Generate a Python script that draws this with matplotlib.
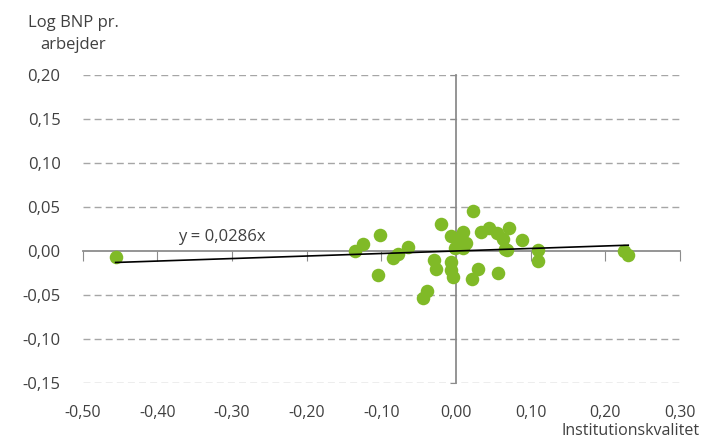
import matplotlib
matplotlib.use('Agg')
from matplotlib import pyplot as plt
from matplotlib.ticker import FuncFormatter
import numpy as np

# institution quality (x) vs log GDP per worker (y)
inst_quality = [-0.456, -0.135, -0.124, -0.102, -0.104, -0.077, -0.084, -0.064,
                -0.044, -0.039, -0.030, -0.027, -0.020, -0.006, 0.010, 0.003,
                0.014, -0.001, 0.010, -0.007, -0.006, -0.004, 0.021, 0.030,
                0.023, 0.034, 0.045, 0.055, 0.063, 0.071, 0.089, 0.069,
                0.066, 0.056, 0.110, 0.110, 0.225, 0.231]
log_gdp = [-0.007, 0.000, 0.008, 0.018, -0.027, -0.003, -0.008, 0.005,
           -0.053, -0.045, -0.010, -0.020, 0.031, 0.017, 0.022, 0.012,
           0.009, 0.003, 0.003, -0.012, -0.022, -0.030, -0.032, -0.020,
           0.045, 0.022, 0.026, 0.021, 0.014, 0.026, 0.012, 0.001,
           0.002, -0.025, 0.001, -0.011, 0.000, -0.004]
slope = 0.0286

xticks = [-0.5, -0.4, -0.3, -0.2, -0.1, 0.0, 0.1, 0.2, 0.3]
yticks = [-0.15, -0.10, -0.05, 0.0, 0.05, 0.10, 0.15, 0.20]

plt.rcParams['font.family'] = ['Open Sans', 'DejaVu Sans']
txt = '#404040'
axc = '#8c8c8c'

fig = plt.figure(figsize=(7.14, 4.41), dpi=100)
ax = fig.add_axes([0.116, 0.1315, 0.836, 0.6985])

comma = FuncFormatter(lambda v, p: f'{v:.2f}'.replace('.', ','))

# dashed horizontal grid
for yv in yticks:
    if yv != 0:
        ax.axhline(yv, color='#a6a6a6', lw=1, ls=(0, (5, 3)), zorder=0)

ax.set_xlim(-0.5, 0.3)
ax.set_ylim(-0.15, 0.20)

for s in ['top', 'right']:
    ax.spines[s].set_visible(False)
ax.spines['left'].set_position(('data', 0))
ax.spines['bottom'].set_position(('data', 0))
ax.spines['left'].set_color(axc)
ax.spines['bottom'].set_color(axc)
ax.spines['left'].set_linewidth(1.3)
ax.spines['bottom'].set_linewidth(1.3)
ax.set_xticks(xticks)
ax.set_yticks(yticks)
ax.tick_params(axis='x', direction='out', length=7, color=axc, labelbottom=False)
ax.tick_params(axis='y', direction='out', length=4, color=axc, labelleft=False)

secx = ax.secondary_xaxis('bottom')
secx.set_xticks(xticks)
secx.xaxis.set_major_formatter(comma)
secx.tick_params(length=0, labelsize=11.5, labelcolor=txt, pad=16)
secx.spines['bottom'].set_visible(False)

secy = ax.secondary_yaxis('left')
secy.set_yticks(yticks)
secy.yaxis.set_major_formatter(comma)
secy.tick_params(length=0, labelsize=12, labelcolor=txt, pad=16)
secy.spines['left'].set_visible(False)

ax.scatter(inst_quality, log_gdp, s=95, color='#80ba27', zorder=3, linewidths=0)

xl = np.array([min(inst_quality), max(inst_quality)])
ax.plot(xl, slope * xl, color='black', lw=1.2, zorder=4)
ax.text(-0.373, 0.016, 'y = 0,0286x', fontsize=12, color=txt, va='center')

fig.text(0.103, 0.924, 'Log BNP pr.\narbejder', ha='center', va='center',
         fontsize=12, color=txt, linespacing=1.5)
fig.text(0.98, 0.022, 'Institutionskvalitet', ha='right', va='center',
         fontsize=11.5, color=txt)

fig.savefig('out.png', dpi=100)
